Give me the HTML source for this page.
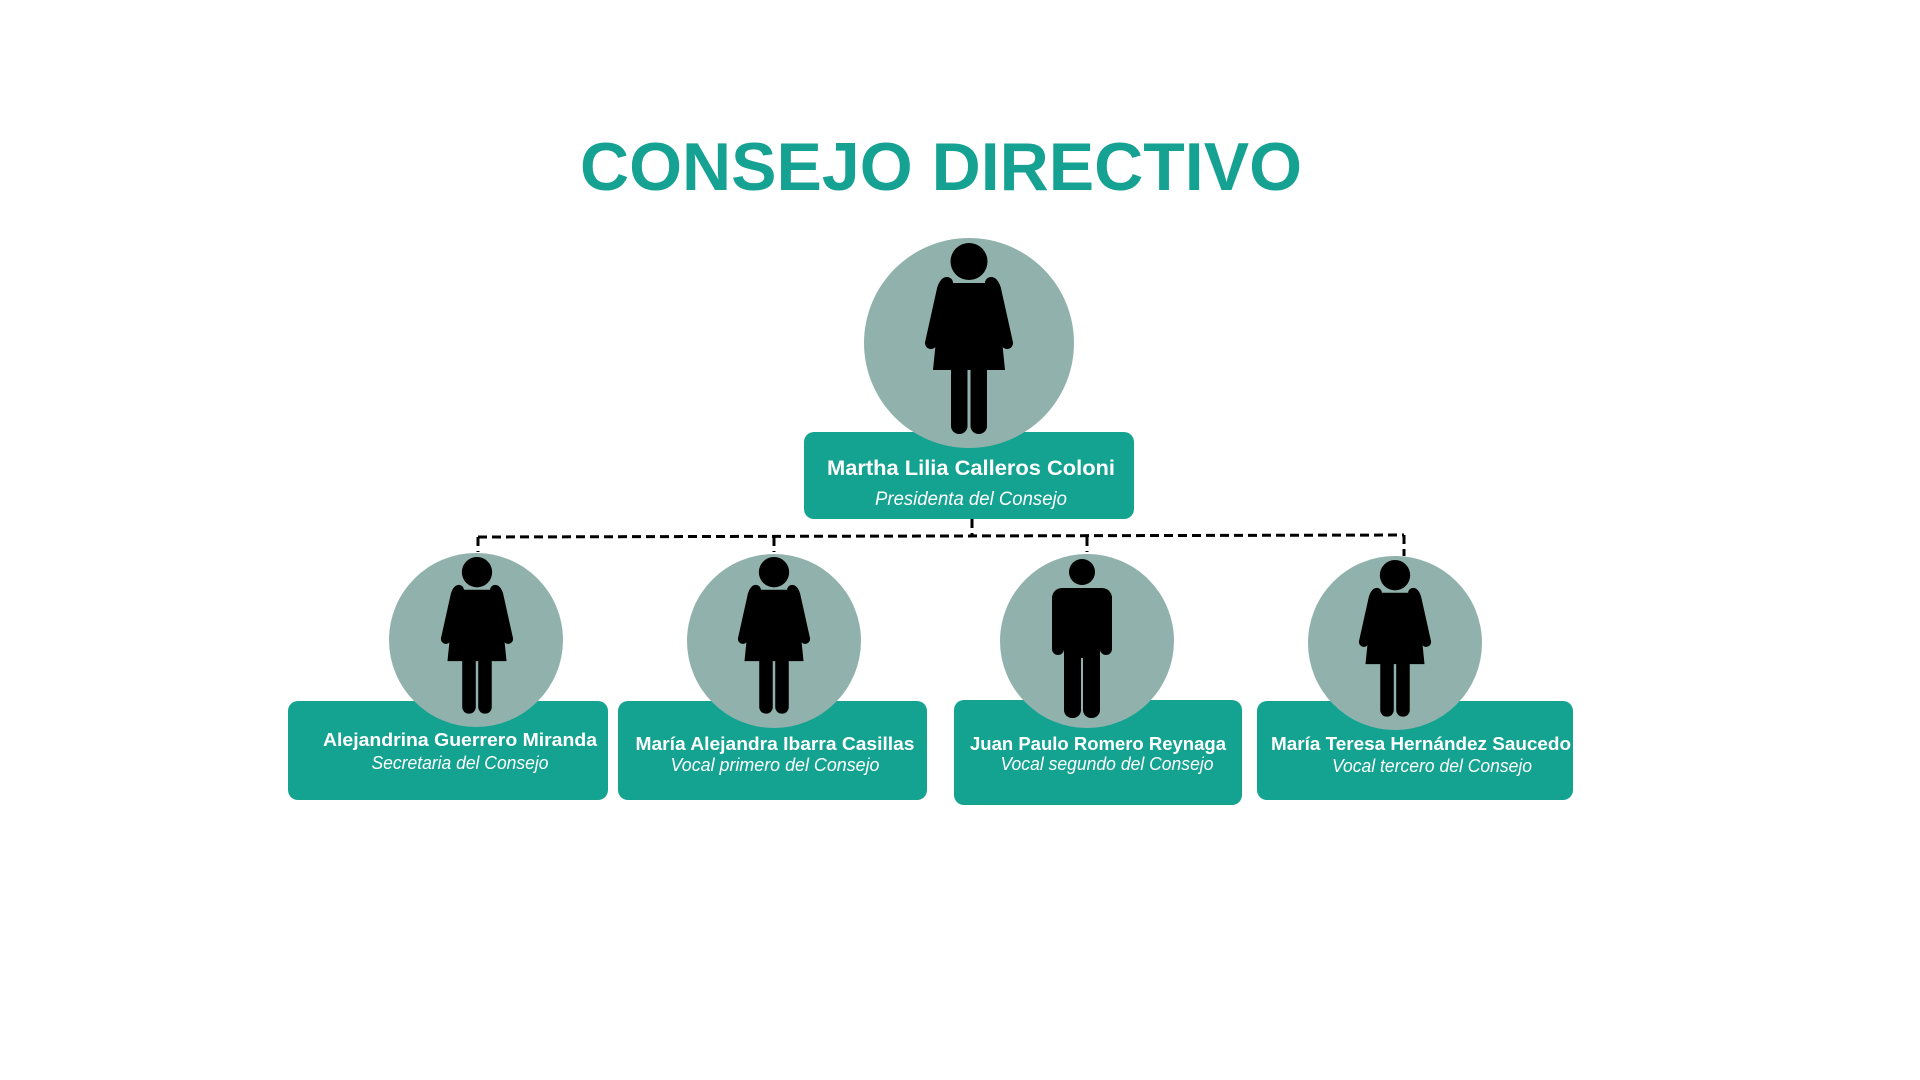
<!DOCTYPE html>
<html><head><meta charset="utf-8"><style>
html,body{margin:0;padding:0;background:#fff;}
svg{display:block;}
text{font-family:"Liberation Sans",sans-serif;fill:#fff;}
</style></head><body>
<svg width="1920" height="1080" viewBox="0 0 1920 1080" xmlns="http://www.w3.org/2000/svg">
<defs>
<g id="fem">
  <circle cx="0" cy="18.5" r="18.5" fill="#000"/>
  <path d="M-22,40 Q-24,40 -26,46 L-38,100 M22,40 Q24,40 26,46 L38,100" stroke="#000" stroke-width="12" stroke-linecap="round" fill="none"/>
  <path d="M-20,40 L20,40 Q26,40 28,48 L36,127 L-36,127 L-28,48 Q-26,40 -20,40 Z" fill="#000"/>
  <rect x="-18" y="120" width="16.5" height="71" rx="8" fill="#000"/>
  <rect x="1.5" y="120" width="16.5" height="71" rx="8" fill="#000"/>
</g>
<g id="male">
  <circle cx="0" cy="0" r="13" fill="#000"/>
  <rect x="-30" y="16" width="60" height="32" rx="10" fill="#000"/>
  <rect x="-30" y="20" width="12" height="63" rx="6" fill="#000"/>
  <rect x="18" y="20" width="12" height="63" rx="6" fill="#000"/>
  <rect x="-18" y="16" width="36" height="70" fill="#000"/>
  <rect x="-18" y="70" width="17" height="76" rx="8" fill="#000"/>
  <rect x="1" y="70" width="17" height="76" rx="8" fill="#000"/>
</g>
</defs>

<text x="941" y="190" text-anchor="middle" font-size="68" font-weight="bold" style="fill:#16a293" textLength="722" lengthAdjust="spacingAndGlyphs">CONSEJO DIRECTIVO</text>

<g stroke="#000" stroke-width="3" stroke-dasharray="9,5" fill="none">
  <path d="M972,519 L972,537"/>
  <path d="M478,537 L1404,535"/>
  <path d="M478,537 L478,552"/>
  <path d="M774,537 L774,552"/>
  <path d="M1087,537 L1087,552"/>
  <path d="M1404,535 L1404,556"/>
</g>

<rect x="804" y="432" width="330" height="87" rx="10" fill="#15a391"/>
<circle cx="969" cy="343" r="105" fill="#91b2ac"/>
<use href="#fem" transform="translate(969,243)"/>
<text x="971" y="475" text-anchor="middle" font-size="21" font-weight="bold" textLength="288" lengthAdjust="spacingAndGlyphs">Martha Lilia Calleros  Coloni</text>
<text x="971" y="505" text-anchor="middle" font-size="19" font-style="italic" textLength="192" lengthAdjust="spacingAndGlyphs">Presidenta del Consejo</text>

<rect x="288" y="701" width="320" height="99" rx="10" fill="#15a391"/>
<rect x="618" y="701" width="309" height="99" rx="10" fill="#15a391"/>
<rect x="954" y="700" width="288" height="105" rx="10" fill="#15a391"/>
<rect x="1257" y="701" width="316" height="99" rx="10" fill="#15a391"/>

<circle cx="476" cy="640" r="87" fill="#91b2ac"/>
<circle cx="774" cy="641" r="87" fill="#91b2ac"/>
<circle cx="1087" cy="641" r="87" fill="#91b2ac"/>
<circle cx="1395" cy="643" r="87" fill="#91b2ac"/>

<use href="#fem" transform="translate(477,557) scale(0.82)"/>
<use href="#fem" transform="translate(774,557) scale(0.82)"/>
<use href="#male" transform="translate(1082,572)"/>
<use href="#fem" transform="translate(1395,560) scale(0.82)"/>

<text x="460" y="746" text-anchor="middle" font-size="18" font-weight="bold" textLength="274" lengthAdjust="spacingAndGlyphs">Alejandrina Guerrero Miranda</text>
<text x="460" y="769" text-anchor="middle" font-size="18" font-style="italic" textLength="177" lengthAdjust="spacingAndGlyphs">Secretaria del Consejo</text>

<text x="775" y="750" text-anchor="middle" font-size="18" font-weight="bold" textLength="279" lengthAdjust="spacingAndGlyphs">María Alejandra Ibarra Casillas</text>
<text x="775" y="771" text-anchor="middle" font-size="18" font-style="italic" textLength="209" lengthAdjust="spacingAndGlyphs">Vocal primero del Consejo</text>

<text x="1098" y="750" text-anchor="middle" font-size="18" font-weight="bold" textLength="256" lengthAdjust="spacingAndGlyphs">Juan Paulo Romero Reynaga</text>
<text x="1107" y="770" text-anchor="middle" font-size="18" font-style="italic" textLength="213" lengthAdjust="spacingAndGlyphs">Vocal segundo del Consejo</text>

<text x="1421" y="750" text-anchor="middle" font-size="18" font-weight="bold" textLength="300" lengthAdjust="spacingAndGlyphs">María Teresa Hernández Saucedo</text>
<text x="1432" y="772" text-anchor="middle" font-size="18" font-style="italic" textLength="200" lengthAdjust="spacingAndGlyphs">Vocal tercero del Consejo</text>
</svg>
</body></html>
